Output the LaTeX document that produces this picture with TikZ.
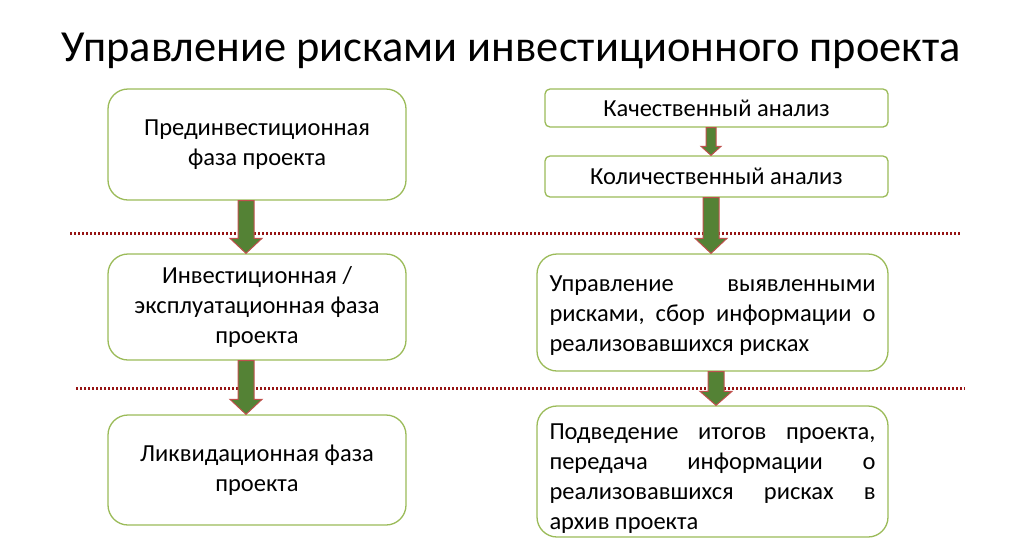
\documentclass[tikz,border=0pt]{standalone}
\usepackage{fontspec}
\setmainfont{Carlito}
\usetikzlibrary{calc}
\definecolor{boxgreen}{RGB}{155,187,89}
\definecolor{arrfill}{RGB}{84,130,53}
\definecolor{arrline}{RGB}{192,80,77}
\definecolor{dotred}{RGB}{150,20,20}
\tikzset{
  box/.style={draw=boxgreen, line width=1.3pt, fill=white, rounded corners=20pt, font=\fontsize{24.5}{30}\selectfont, align=center, inner sep=0pt},
  smallbox/.style={box, rounded corners=5pt},
  barr/.style={fill=arrfill, draw=arrline, line width=1pt, line join=miter},
  sep/.style={draw=dotred, line width=3pt, dash pattern=on 2.3pt off 1.7pt}
}
\newcommand\barrow[6]{%
  \path let \p1=(#1.south), \p2=(#2.north) in
    [barr] (#3-#4,\y1) -- (#3+#4,\y1) -- (#3+#4,\y2+#6) -- (#3+#5,\y2+#6) -- (#3,\y2) -- (#3-#5,\y2+#6) -- (#3-#4,\y2+#6) -- cycle;}
\begin{document}
\begin{tikzpicture}[x=1pt,y=-1pt]
\useasboundingbox (0,0) rectangle (1024,539);
\node[font=\fontsize{44.4}{50}\selectfont] (title) at (511,51) {Управление рисками инвестиционного проекта};

\draw[sep] (70,233) -- (960,233);
\draw[sep] (76,388) -- (965,388);

\node[box, minimum width=298pt, minimum height=111pt] (l1) at (257,144.5) {Прединвестиционная\\фаза проекта};
\node[box, minimum width=298pt, minimum height=106pt] (l2) at (257,307) {Инвестиционная /\\эксплуатационная фаза\\проекта};
\node[box, minimum width=298pt, minimum height=110pt] (l3) at (257,470) {Ликвидационная фаза\\проекта};

\node[smallbox, minimum width=343pt, minimum height=38pt] (r1) at (716.5,108) {Качественный анализ};
\node[smallbox, minimum width=343pt, minimum height=41pt] (r2) at (716.5,176.5) {Количественный анализ};
\node[box, minimum width=351pt, minimum height=117pt, align=left] (r3) at (712.5,312.5) {%
\hbox to 326pt{\rule{0pt}{22pt}Управление\hfill выявленными}\\
\hbox to 326pt{рисками,\hfill сбор\hfill информации\hfill о}\\
\hbox to 326pt{реализовавшихся рисках\hfill}};
\node[box, minimum width=351pt, minimum height=131pt, align=left] (r4) at (712.5,471.5) {%
\hbox to 326pt{\rule{0pt}{30pt}Подведение\hfill итогов\hfill проекта,}\\
\hbox to 326pt{передача\hfill информации\hfill о}\\
\hbox to 326pt{реализовавшихся\hfill рисках\hfill в}\\
\hbox to 326pt{архив проекта\hfill}};

\barrow{l1}{l2}{246}{8}{16}{15}
\barrow{l2}{l3}{246}{8}{16}{15}
\barrow{r1}{r2}{711}{5}{10}{9}
\barrow{r2}{r3}{711}{8}{16}{15}
\barrow{r3}{r4}{716}{8}{16}{14}
\end{tikzpicture}
\end{document}
